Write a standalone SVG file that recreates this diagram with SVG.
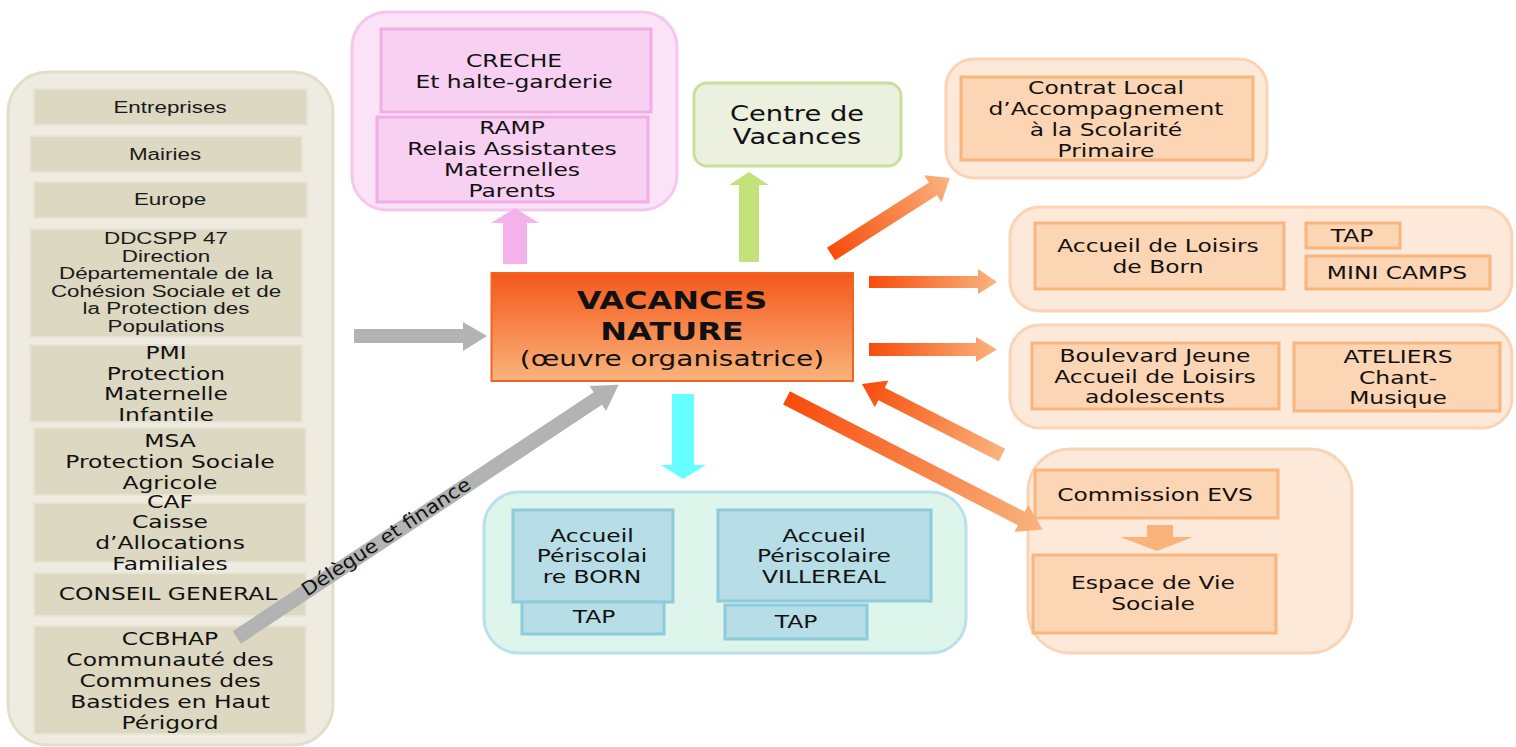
<svg xmlns="http://www.w3.org/2000/svg" width="1516" height="747" viewBox="0 0 1516 747">
<defs>
<linearGradient id="gOrangeBox" x1="0" y1="0" x2="0" y2="1">
<stop offset="0" stop-color="#f5571a"/>
<stop offset="1" stop-color="#f9b47c"/>
</linearGradient>
<linearGradient id="gArrow" x1="0" y1="0" x2="1" y2="0">
<stop offset="0" stop-color="#f84b0a"/>
<stop offset="1" stop-color="#f9b47e"/>
</linearGradient>
<linearGradient id="gArrowRev" x1="0" y1="0" x2="1" y2="0">
<stop offset="0" stop-color="#f9b47e"/>
<stop offset="1" stop-color="#f84b0a"/>
</linearGradient>
</defs>
<style>
.t{font-family:"DejaVu Sans",Verdana,sans-serif;font-size:18px;fill:#111;text-anchor:middle}
.a{font-family:"Liberation Sans",Arial,sans-serif;font-size:16px;fill:#1a1a1a;text-anchor:middle}
.leftC{fill:#eeebe1;stroke:#e3ddc9;stroke-width:3}
.leftB{fill:#ddd8c2;stroke:#e8e4d5;stroke-width:2}
.pinkC{fill:#fae3f6;stroke:#f6c6ef;stroke-width:3}
.pinkB{fill:#f8d0f2;stroke:#f1ade7;stroke-width:3}
.greenB{fill:#ebf0df;stroke:#c9df9c;stroke-width:3}
.orC{fill:#fde9da;stroke:#fbd3b5;stroke-width:3}
.orB{fill:#fcd5b4;stroke:#f8b57d;stroke-width:3}
.tealC{fill:#ddf5ea;stroke:#b9e0ec;stroke-width:3}
.tealB{fill:#b7dde6;stroke:#8ecbdc;stroke-width:3}
.gray{fill:#b3b3b3}
</style>

<g id="financeurs">
<rect class="leftC" x="8" y="72" width="325" height="673" rx="40"/>
<g id="entreprises"><rect class="leftB" x="34" y="89" width="273" height="36"/>
<text class="a" transform="translate(170,0) scale(1.4,1)"><tspan x="0" y="113">Entreprises</tspan></text></g>
<g id="mairies"><rect class="leftB" x="30" y="136" width="272" height="36"/>
<text class="a" transform="translate(165,0) scale(1.4,1)"><tspan x="0" y="160">Mairies</tspan></text></g>
<g id="europe"><rect class="leftB" x="34" y="182" width="273" height="36"/>
<text class="a" transform="translate(170,0) scale(1.4,1)"><tspan x="0" y="205">Europe</tspan></text></g>
<g id="ddcspp"><rect class="leftB" x="30" y="229" width="272" height="108"/>
<text class="a" transform="translate(166,0) scale(1.4,1)"><tspan x="0" y="244.5">DDCSPP 47</tspan><tspan x="0" y="262">Direction</tspan><tspan x="0" y="279.5">Départementale de la</tspan><tspan x="0" y="297">Cohésion Sociale et de</tspan><tspan x="0" y="314.5">la Protection des</tspan><tspan x="0" y="332">Populations</tspan></text></g>
<g id="pmi"><rect class="leftB" x="30" y="345" width="272" height="77"/>
<text class="t" transform="translate(166,0) scale(1.3,1)"><tspan x="0" y="359">PMI</tspan><tspan x="0" y="380">Protection</tspan><tspan x="0" y="400">Maternelle</tspan><tspan x="0" y="421">Infantile</tspan></text></g>
<g id="msa"><rect class="leftB" x="34" y="428" width="272" height="67"/>
<text class="t" transform="translate(170,0) scale(1.3,1)"><tspan x="0" y="447.5">MSA</tspan><tspan x="0" y="468.5">Protection Sociale</tspan><tspan x="0" y="489">Agricole</tspan></text></g>
<g id="caf"><rect class="leftB" x="34" y="503" width="272" height="59"/>
<text class="t" transform="translate(170,0) scale(1.3,1)"><tspan x="0" y="508">CAF</tspan><tspan x="0" y="528">Caisse</tspan><tspan x="0" y="549">d’Allocations</tspan><tspan x="0" y="570">Familiales</tspan></text></g>
<g id="conseil-general"><rect class="leftB" x="34" y="573" width="272" height="43"/>
<text class="t" transform="translate(168,0) scale(1.3,1)"><tspan x="0" y="600">CONSEIL GENERAL</tspan></text></g>
<g id="ccbhap"><rect class="leftB" x="34" y="626" width="272" height="108"/>
<text class="t" transform="translate(170,0) scale(1.3,1)"><tspan x="0" y="645">CCBHAP</tspan><tspan x="0" y="666">Communauté des</tspan><tspan x="0" y="687">Communes des</tspan><tspan x="0" y="708">Bastides en Haut</tspan><tspan x="0" y="729">Périgord</tspan></text></g>
</g>

<g id="petite-enfance">
<rect class="pinkC" x="352" y="12" width="325" height="198" rx="35"/>
<g id="creche"><rect class="pinkB" x="381" y="29" width="270" height="83"/>
<text class="t" transform="translate(514,0) scale(1.3,1)"><tspan x="0" y="67">CRECHE</tspan><tspan x="0" y="88">Et halte-garderie</tspan></text></g>
<g id="ramp"><rect class="pinkB" x="377" y="117" width="271" height="85"/>
<text class="t" transform="translate(512,0) scale(1.3,1)"><tspan x="0" y="134">RAMP</tspan><tspan x="0" y="155">Relais Assistantes</tspan><tspan x="0" y="176">Maternelles</tspan><tspan x="0" y="197">Parents</tspan></text></g>
</g>

<g id="centre-vacances"><rect class="greenB" x="694" y="83" width="207" height="83" rx="13"/>
<text class="t" style="font-size:21px" transform="translate(797,0) scale(1.3,1)"><tspan x="0" y="121">Centre de</tspan><tspan x="0" y="144">Vacances</tspan></text></g>

<g id="vacances-nature"><rect x="491.5" y="273" width="361.5" height="108" fill="url(#gOrangeBox)" stroke="#f26424" stroke-width="2"/>
<text class="t" style="font-size:25px;font-weight:bold" transform="translate(672,0) scale(1.28,1)"><tspan x="0" y="309">VACANCES</tspan><tspan x="0" y="340">NATURE</tspan></text>
<text class="t" style="font-size:21.5px" transform="translate(672,0) scale(1.3,1)"><tspan x="0" y="366">(œuvre organisatrice)</tspan></text></g>

<g id="periscolaire">
<rect class="tealC" x="484" y="492" width="482" height="161" rx="35"/>
<g id="peri-born"><rect class="tealB" x="513" y="510" width="160" height="92"/>
<text class="t" transform="translate(592,0) scale(1.3,1)"><tspan x="0" y="542">Accueil</tspan><tspan x="0" y="562">Périscolai</tspan><tspan x="0" y="583">re BORN</tspan></text></g>
<g id="tap-born"><rect class="tealB" x="522" y="602" width="142" height="32"/>
<text class="t" transform="translate(594,0) scale(1.3,1)"><tspan x="0" y="623">TAP</tspan></text></g>
<g id="peri-villereal"><rect class="tealB" x="718" y="510" width="213" height="91"/>
<text class="t" transform="translate(824,0) scale(1.3,1)"><tspan x="0" y="542">Accueil</tspan><tspan x="0" y="562">Périscolaire</tspan><tspan x="0" y="583">VILLEREAL</tspan></text></g>
<g id="tap-villereal"><rect class="tealB" x="725" y="605" width="142" height="34"/>
<text class="t" transform="translate(796,0) scale(1.3,1)"><tspan x="0" y="628">TAP</tspan></text></g>
</g>

<g id="clas">
<rect class="orC" x="946" y="59" width="321" height="119" rx="28"/>
<rect class="orB" x="961" y="77" width="292" height="83"/>
<text class="t" transform="translate(1106,0) scale(1.3,1)"><tspan x="0" y="94">Contrat Local</tspan><tspan x="0" y="115">d’Accompagnement</tspan><tspan x="0" y="136">à la Scolarité</tspan><tspan x="0" y="157">Primaire</tspan></text>
</g>

<g id="loisirs-born">
<rect class="orC" x="1010" y="207" width="502" height="104" rx="30"/>
<g id="accueil-loisirs-born"><rect class="orB" x="1035" y="223" width="249" height="66"/>
<text class="t" transform="translate(1158,0) scale(1.3,1)"><tspan x="0" y="252">Accueil de Loisirs</tspan><tspan x="0" y="273">de Born</tspan></text></g>
<g id="tap-loisirs"><rect class="orB" x="1306" y="223" width="94" height="25"/>
<text class="t" transform="translate(1352,0) scale(1.3,1)"><tspan x="0" y="242">TAP</tspan></text></g>
<g id="mini-camps"><rect class="orB" x="1306" y="256" width="184" height="33"/>
<text class="t" transform="translate(1397,0) scale(1.3,1)"><tspan x="0" y="279">MINI CAMPS</tspan></text></g>
</g>

<g id="jeunesse">
<rect class="orC" x="1010" y="325" width="502" height="103" rx="30"/>
<g id="boulevard-jeune"><rect class="orB" x="1032" y="343" width="247" height="66"/>
<text class="t" transform="translate(1155,0) scale(1.3,1)"><tspan x="0" y="362">Boulevard Jeune</tspan><tspan x="0" y="383">Accueil de Loisirs</tspan><tspan x="0" y="403">adolescents</tspan></text></g>
<g id="ateliers"><rect class="orB" x="1294" y="343" width="206" height="68"/>
<text class="t" transform="translate(1398,0) scale(1.3,1)"><tspan x="0" y="363">ATELIERS</tspan><tspan x="0" y="384">Chant-</tspan><tspan x="0" y="404">Musique</tspan></text></g>
</g>

<g id="evs">
<rect class="orC" x="1028" y="449" width="324" height="204" rx="42"/>
<g id="commission-evs"><rect class="orB" x="1035" y="470" width="243" height="48"/>
<text class="t" transform="translate(1155,0) scale(1.3,1)"><tspan x="0" y="501">Commission EVS</tspan></text></g>
<g id="espace-vie-sociale"><rect class="orB" x="1033" y="555" width="243" height="78"/>
<text class="t" transform="translate(1153,0) scale(1.3,1)"><tspan x="0" y="589">Espace de Vie</tspan><tspan x="0" y="610">Sociale</tspan></text></g>
</g>

<g id="connectors">
<polygon class="gray" points="354,329 463,329 463,322 487,336 463,351 463,343 354,343"/>
<g transform="translate(236.7,637.5) rotate(-33.5)">
<polygon class="gray" points="0,-7.5 433,-7.5 433,-15 458,0 433,15 433,7.5 0,7.5"/>
<text class="t" style="font-size:19px" transform="translate(180,5) scale(1.1,1)" x="0" y="0">Délègue et finance</text>
</g>
<polygon fill="#f4b2ea" points="503,264 503,223 491,223 515,208 539,223 527,223 527,264"/>
<polygon fill="#c3e37a" points="739,262 739,185 729,185 749,172 769,185 759,185 759,262"/>
<polygon fill="#66ffff" points="672,394 694,394 694,465 706,465 683,479 661,465 672,465"/>
<g transform="translate(831,254) rotate(-32.6)">
<polygon fill="url(#gArrow)" points="0,-7.5 121,-7.5 121,-16 141,0 121,16 121,7.5 0,7.5"/>
</g>
<polygon fill="url(#gArrow)" points="869,276 978,276 978,269 997,282 978,294 978,288 869,288"/>
<polygon fill="url(#gArrow)" points="869,343 976,343 976,337 997,349.5 976,362 976,356 869,356"/>
<g transform="translate(786.5,397.8) rotate(27.2)">
<polygon fill="url(#gArrow)" points="0,-7.5 264,-7.5 264,-15 288,0 264,15 264,7.5 0,7.5"/>
</g>
<g transform="translate(1002,455) rotate(-153.1)">
<polygon fill="url(#gArrowRev)" points="0,-7 135,-7 135,-15 157,0 135,15 135,7 0,7"/>
</g>
<polygon fill="#f8b47a" points="1147,525 1173,525 1173,537 1193,537 1157,551 1120,537 1147,537"/>
</g>
</svg>
